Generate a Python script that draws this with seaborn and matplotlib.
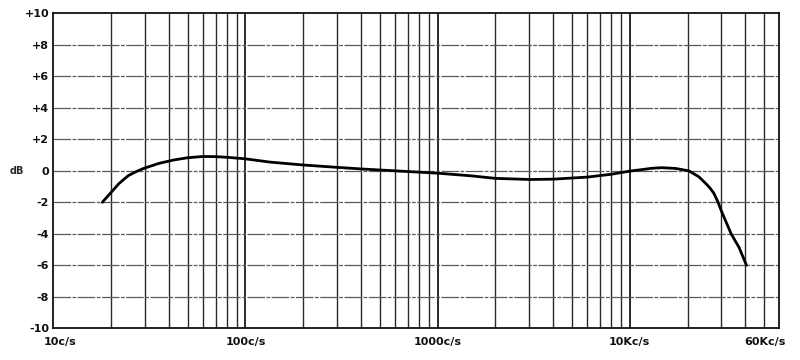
import numpy as np
import pandas as pd
import matplotlib
matplotlib.use("Agg")
import matplotlib.pyplot as plt
import matplotlib.transforms as mtransforms
import seaborn as sns

# ---- data ----
freq_hz = [18, 19, 20, 21, 22, 24.6, 27, 29.5, 35.4, 42, 50, 60, 70, 80, 100,
           135, 200, 300, 400, 600, 1000, 1500, 2000, 3000, 4000, 6000, 8000,
           10000, 11600, 13000, 14700, 17300, 20300, 22900, 24000, 25300,
           26300, 27400, 28700, 30000, 33700, 37000, 40500]
level_db = [-2.0, -1.67, -1.37, -1.08, -0.8, -0.3, -0.05, 0.15, 0.47, 0.68,
            0.83, 0.91, 0.9, 0.86, 0.76, 0.55, 0.37, 0.22, 0.12, 0.0, -0.15,
            -0.32, -0.48, -0.55, -0.53, -0.4, -0.22, -0.02, 0.08, 0.16, 0.2,
            0.15, 0.0, -0.38, -0.62, -0.9, -1.13, -1.43, -1.95, -2.56, -4.0,
            -4.85, -6.0]

x_tick_values = [10, 100, 1000, 10000, 60000]
x_tick_labels = ["10c/s", "100c/s", "1000c/s", "10Kc/s", "60Kc/s"]
y_tick_values = [10, 8, 6, 4, 2, 0, -2, -4, -6, -8, -10]
y_tick_labels = ["+10", "+8", "+6", "+4", "+2", "0", "-2", "-4", "-6", "-8", "-10"]
minor_grid = [m * d for d in (10, 100, 1000, 10000) for m in range(2, 10) if m * d < 60000]

df = pd.DataFrame({"freq": freq_hz, "db": level_db})

sns.set_theme(style="white")
plt.rcParams["font.family"] = ["DejaVu Sans"]

fig = plt.figure(figsize=(8, 3.6), dpi=100)
ax = fig.add_axes([0.0666, 0.088, 0.9075, 0.875])

# grid
for v in minor_grid:
    ax.axvline(v, color="#2a2a2a", lw=1.0, zorder=1)
for v in (100, 1000, 10000):
    ax.axvline(v, color="#1a1a1a", lw=1.3, zorder=1)
for v in y_tick_values[1:-1]:
    ax.axhline(v, color="#5a5a5a", lw=0.9, ls=(0, (14, 1.2, 3, 1.2)), zorder=1)

sns.lineplot(data=df, x="freq", y="db", ax=ax, color="black", lw=2.0, zorder=3)
for ln in ax.get_lines():
    ln.set_solid_joinstyle("round")

ax.set_xscale("log")
ax.set_xlim(10, 60000)
ax.set_ylim(-10, 10)

ax.set_xticks(x_tick_values)
ax.set_xticklabels(x_tick_labels, fontsize=8, fontweight="bold")
ax.xaxis.set_minor_locator(matplotlib.ticker.NullLocator())
ax.set_yticks(y_tick_values)
ax.set_yticklabels(y_tick_labels, fontsize=8, fontweight="bold")
ax.tick_params(axis="both", length=0, pad=3, colors="#111111")
ax.tick_params(axis="x", pad=6)

# nudge first and last x labels like the original
labs = ax.get_xticklabels()
labs[0].set_transform(labs[0].get_transform() + mtransforms.ScaledTranslation(7 / 100, 0, fig.dpi_scale_trans))
labs[-1].set_transform(labs[-1].get_transform() + mtransforms.ScaledTranslation(-14 / 100, 0, fig.dpi_scale_trans))

ax.set_xlabel("")
ax.set_ylabel("dB", rotation=0, fontsize=7, fontweight="bold", va="center", ha="center")
ax.yaxis.set_label_coords(-0.05, 0.5)

for s in ax.spines.values():
    s.set_color("#111111")
    s.set_linewidth(1.3)
    s.set_visible(True)

fig.savefig("out.png", dpi=100, facecolor="white")
